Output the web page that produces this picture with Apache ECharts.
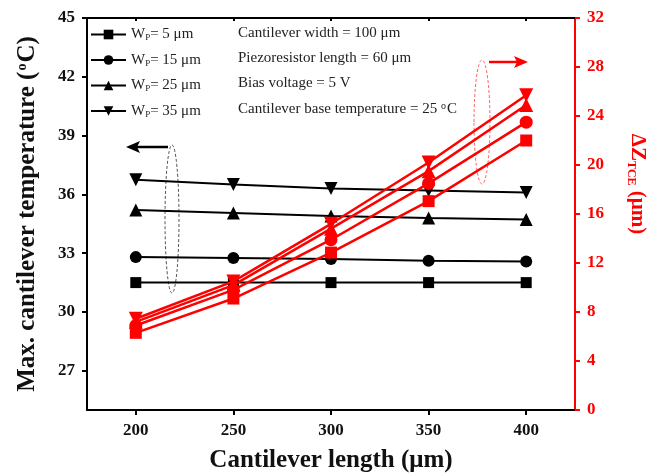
<!DOCTYPE html>
<html><head><meta charset="utf-8">
<script src="https://cdn.jsdelivr.net/npm/echarts@6/dist/echarts.min.js"></script>
<style>html,body{margin:0;padding:0;background:#fff;overflow:hidden}#c{width:647px;height:475px}</style>
</head><body><div id="c"></div>
<script>
// ---- data ----
var lengths = [200, 250, 300, 350, 400];
var xTicks = [200, 250, 300, 350, 400];
var leftTicks = [27, 30, 33, 36, 39, 42, 45];
var widthLabels = ['5', '15', '25', '35'];
var temp5  = [31.5, 31.5, 31.5, 31.5, 31.5];
var temp15 = [32.8, 32.75, 32.7, 32.62, 32.58];
var temp25 = [35.2, 35.05, 34.9, 34.8, 34.72];
var temp35 = [36.75, 36.5, 36.3, 36.2, 36.1];
var dz5  = [6.3, 9.1, 12.85, 17.05, 22.0];
var dz15 = [6.9, 9.8, 13.9, 18.5, 23.5];
var dz25 = [7.2, 10.2, 14.8, 19.5, 24.9];
var dz35 = [7.45, 10.5, 15.2, 20.2, 25.7];

var FONT = 'Liberation Serif';
var RED = '#ff0000';
var temps = [temp5, temp15, temp25, temp35];
var dzs = [dz5, dz15, dz25, dz35];
var symbols = ['rect', 'circle', 'triangle', 'triangle'];
var rots = [0, 0, 0, 180];
var sizes = [11, 12, 13, 13];

function pairs(arr) { return lengths.map(function (x, i) { return [x, arr[i]]; }); }
function nameOf(i) { return 'W' + widthLabels[i]; }

var series = [];
temps.forEach(function (t, i) {
  series.push({
    name: nameOf(i), type: 'line', xAxisIndex: 0, yAxisIndex: 0, data: pairs(t),
    symbol: symbols[i], symbolRotate: rots[i], symbolSize: sizes[i],
    lineStyle: { color: '#000', width: 2 }, itemStyle: { color: '#000' }, z: 3
  });
});
dzs.forEach(function (d, i) {
  series.push({
    name: 'dz' + i, type: 'line', xAxisIndex: 0, yAxisIndex: 1, data: pairs(d),
    symbol: symbols[i], symbolRotate: rots[i], symbolSize: sizes[i] + 1,
    lineStyle: { color: RED, width: 2.5 }, itemStyle: { color: RED }, z: 4
  });
});

var infoLines = [
  'Cantilever width = 100 μm',
  'Piezoresistor length = 60 μm',
  'Bias voltage = 5 V',
  'Cantilever base temperature = 25 {sup|o}C'
];
var rowY = [33, 58, 83, 109];

var graphics = infoLines.map(function (t, i) {
  return {
    type: 'text', x: 238, y: rowY[i],
    style: {
      text: t, fontFamily: FONT, fontSize: 15, fill: '#222', verticalAlign: 'middle',
      rich: { sup: { fontSize: 10, verticalAlign: 'top', fontFamily: FONT, fill: '#222', padding: [0, 1, 0, 0] } }
    }
  };
});
// annotation ellipses and arrows
graphics.push({ type: 'ellipse', shape: { cx: 172, cy: 219, rx: 7, ry: 74 },
  style: { fill: 'none', stroke: '#555', lineWidth: 1, lineDash: [3, 2] }, z: 1 });
graphics.push({ type: 'line', shape: { x1: 168, y1: 147, x2: 136, y2: 147 },
  style: { stroke: '#000', lineWidth: 2.5 } });
graphics.push({ type: 'polygon', shape: { points: [[126, 147], [140, 141], [137, 147], [140, 153]] },
  style: { fill: '#000' } });
graphics.push({ type: 'ellipse', shape: { cx: 482, cy: 122, rx: 8, ry: 62 },
  style: { fill: 'none', stroke: '#ff6666', lineWidth: 1, lineDash: [3, 2] }, z: 1 });
graphics.push({ type: 'line', shape: { x1: 489, y1: 62, x2: 518, y2: 62 },
  style: { stroke: RED, lineWidth: 2.5 } });
graphics.push({ type: 'polygon', shape: { points: [[528, 62], [514, 56], [517, 62], [514, 68]] },
  style: { fill: RED } });

var chart = echarts.init(document.getElementById('c'), null, { renderer: 'canvas' });
chart.setOption({
  animation: false,
  backgroundColor: '#fff',
  grid: { left: 87, right: 72, top: 18, bottom: 65, containLabel: false, outerBoundsMode: 'none' },
  legend: {
    data: [0, 1, 2, 3].map(nameOf),
    orient: 'vertical', left: 90, top: 27, padding: 0, itemGap: 10, itemWidth: 35, itemHeight: 12,
    textStyle: { fontFamily: FONT, fontSize: 15, color: '#222',
      rich: { a: { fontFamily: FONT, fontSize: 15, color: '#222' },
              s: { fontFamily: FONT, fontSize: 9, color: '#222', verticalAlign: 'bottom', padding: [7, 0, 0, 0] } } },
    formatter: function (n) { var i = [0, 1, 2, 3].map(nameOf).indexOf(n); return '{a|W}{s|P}{a|= ' + widthLabels[i] + ' μm}'; },
    selectedMode: false
  },
  xAxis: [{
    type: 'value', min: 175, max: 425, position: 'bottom',
    name: 'Cantilever length (μm)', nameLocation: 'middle', nameGap: 38,
    nameTextStyle: { fontFamily: FONT, fontSize: 25, fontWeight: 'bold', color: '#111' },
    axisLine: { lineStyle: { color: '#000', width: 2 } },
    axisTick: { customValues: xTicks, length: 5, lineStyle: { color: '#000', width: 2 } },
    axisLabel: { customValues: xTicks, margin: 12, fontFamily: FONT, fontSize: 17, fontWeight: 'bold', color: '#111' },
    splitLine: { show: false }
  }, {
    type: 'value', min: 175, max: 425, position: 'top',
    axisLine: { show: true, lineStyle: { color: '#000', width: 2 } },
    axisTick: { inside: true, customValues: xTicks, length: 3, lineStyle: { color: '#000', width: 2 } },
    axisLabel: { show: false }, splitLine: { show: false }
  }],
  yAxis: [{
    type: 'value', min: 25, max: 45, position: 'left',
    name: 'Max. cantilever temperature ({sup|o}C)', nameLocation: 'middle', nameGap: 47,
    nameTextStyle: { fontFamily: FONT, fontSize: 25, fontWeight: 'bold', color: '#111',
      rich: { sup: { fontFamily: FONT, fontSize: 14, fontWeight: 'bold', color: '#111', verticalAlign: 'top', padding: [0, 1, 0, 1] } } },
    axisLine: { show: true, lineStyle: { color: '#000', width: 2 } },
    axisTick: { customValues: leftTicks, length: 5, lineStyle: { color: '#000', width: 2 } },
    axisLabel: { customValues: leftTicks, margin: 12, fontFamily: FONT, fontSize: 17, fontWeight: 'bold', color: '#111' },
    splitLine: { show: false }
  }, {
    type: 'value', min: 0, max: 32, interval: 4, position: 'right',
    name: '{a|ΔZ}{sub|TCE}{a| (μm)}', nameLocation: 'middle', nameGap: 50, nameRotate: -90,
    nameTextStyle: { color: RED, fontFamily: FONT, fontSize: 21, fontWeight: 'bold', padding: [0, 60, 0, 0],
      rich: { a: { fontFamily: FONT, fontSize: 21, fontWeight: 'bold', color: RED },
              sub: { fontFamily: FONT, fontSize: 12, fontWeight: 'bold', color: RED, verticalAlign: 'bottom', padding: [12, 0, 0, 0] } } },
    axisLine: { show: true, lineStyle: { color: RED, width: 2 } },
    axisTick: { length: 5, lineStyle: { color: RED, width: 2 } },
    axisLabel: { margin: 12, fontFamily: FONT, fontSize: 17, fontWeight: 'bold', color: RED },
    splitLine: { show: false }
  }],
  series: series,
  graphic: graphics
});
</script></body></html>
